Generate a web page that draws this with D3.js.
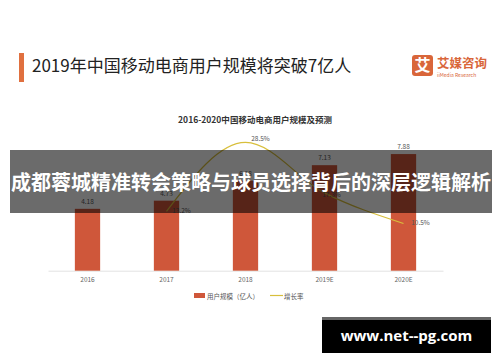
<!DOCTYPE html>
<html><head><meta charset="utf-8">
<script src="https://cdn.jsdelivr.net/npm/d3@7"></script>
<style>html,body{margin:0;padding:0;background:#fff;}svg{display:block;}</style>
</head><body>
<svg id="c" width="500" height="362"></svg>
<script>
const categories = ["2016","2017","2018","2019E","2020E"];
const users = [4.18, 4.73, 6.08, 7.13, 7.88];
const growth = [null, 13.2, 28.5, 17.3, 10.5];
const userLabels = ["4.18","4.73","6.08","7.13","7.88"];
const growthLabels = [null,"13.2%","28.5%","17.3%","10.5%"];

const F = "'Noto Sans CJK SC','Noto Sans',sans-serif";
const svg = d3.select("#c");

// title block
svg.append("rect").attr("x",19).attr("y",53).attr("width",5).attr("height",29).attr("fill","#e0703f");
svg.append("text").attr("x",32).attr("y",72).attr("font-family",F).attr("font-size",17).attr("fill","#222")
  .text("2019年中国移动电商用户规模将突破7亿人");
// logo
svg.append("rect").attr("x",412).attr("y",55).attr("width",21).attr("height",21).attr("rx",3).attr("fill","#d9663a");
svg.append("text").attr("x",422.5).attr("y",71).attr("text-anchor","middle").attr("font-family",F).attr("font-weight","bold").attr("font-size",16).attr("fill","#fff").text("艾");
svg.append("text").attr("x",437).attr("y",68).attr("font-family",F).attr("font-weight","bold").attr("font-size",12.5).attr("fill","#d9663a").text("艾媒咨询");
svg.append("text").attr("x",437).attr("y",76.5).attr("font-family",F).attr("font-size",5).attr("fill","#d9663a").text("iiMedia Research");

// chart title
svg.append("text").attr("x",255).attr("y",123).attr("text-anchor","middle").attr("font-family",F).attr("font-weight","bold").attr("font-size",8.5).attr("fill","#333")
  .text("2016-2020中国移动电商用户规模及预测");

const x = d3.scaleBand().domain(categories).range([48,443]).paddingInner(0.68).paddingOuter(0.34);
const y = d3.scaleLinear().domain([0,10]).range([270.7,122.7]);
const y2 = d3.scaleLinear().domain([0,30]).range([270.7,135.7]);

// axis
const xAxis = d3.axisBottom(x).tickSize(0).tickPadding(7);
const gx = svg.append("g").attr("transform","translate(0,270.7)").call(xAxis);
gx.select(".domain").attr("stroke","#e3e3e3");
gx.selectAll("text").attr("font-family",F).attr("font-size",6.5).attr("fill","#666");

// bars
svg.selectAll("rect.bar").data(users).join("rect").attr("class","bar")
  .attr("x",(d,i)=>x(categories[i])).attr("width",x.bandwidth())
  .attr("y",d=>y(d)).attr("height",d=>y(0)-y(d)).attr("fill","#cf573a");
svg.selectAll("text.bl").data(users).join("text").attr("class","bl")
  .attr("x",(d,i)=>x(categories[i])+x.bandwidth()/2).attr("y",d=>y(d)-5)
  .attr("text-anchor","middle").attr("font-family",F).attr("font-size",6.5).attr("fill","#555")
  .text((d,i)=>userLabels[i]);

// line
const gData = growth.map((g,i)=>({g, i, cx: x(categories[i])+x.bandwidth()/2})).filter(d=>d.g!=null);
const pts = gData.map(d=>[d.cx, y2(d.g)]);
svg.append("path").attr("d",d3.line().curve(d3.curveMonotoneX)(pts))
  .attr("fill","none").attr("stroke","#d8bf3c").attr("stroke-width",1.2);
const gOff = [null,[15,2],[15,-1],[7,4],[17,2]];
svg.selectAll("text.gl").data(gData).join("text").attr("class","gl")
  .attr("x",d=>d.cx+gOff[d.i][0]).attr("y",d=>y2(d.g)+gOff[d.i][1])
  .attr("text-anchor","middle").attr("font-family",F).attr("font-size",6.5).attr("fill","#555")
  .text(d=>growthLabels[d.i]);

// legend
svg.append("rect").attr("x",194).attr("y",293).attr("width",11).attr("height",5).attr("fill","#cf573a");
svg.append("text").attr("x",207).attr("y",298.5).attr("font-family",F).attr("font-size",6.5).attr("fill","#555").text("用户规模（亿人）");
svg.append("line").attr("x1",270).attr("x2",283).attr("y1",295.5).attr("y2",295.5).attr("stroke","#d8bf3c").attr("stroke-width",1.2);
svg.append("text").attr("x",284).attr("y",298.5).attr("font-family",F).attr("font-size",6.5).attr("fill","#555").text("增长率");

// banner overlay
svg.append("rect").attr("x",10).attr("y",150).attr("width",482).attr("height",63).attr("fill","rgba(0,0,0,0.58)");
svg.append("text").attr("x",251).attr("y",190).attr("text-anchor","middle").attr("font-family",F).attr("font-weight","bold").attr("font-size",20).attr("fill","#fff")
  .text("成都蓉城精准转会策略与球员选择背后的深层逻辑解析");

// watermark
svg.append("rect").attr("x",322).attr("y",317).attr("width",169).attr("height",36).attr("fill","#000");
svg.append("rect").attr("x",322).attr("y",317).attr("width",169).attr("height",3).attr("fill","#666");
svg.append("text").attr("x",406.5).attr("y",341).attr("text-anchor","middle").attr("font-family","'Open Sans','DejaVu Sans',sans-serif").attr("font-weight","bold").attr("font-size",15).attr("fill","#fff").text("www.net--pg.com");
</script>
</body></html>
